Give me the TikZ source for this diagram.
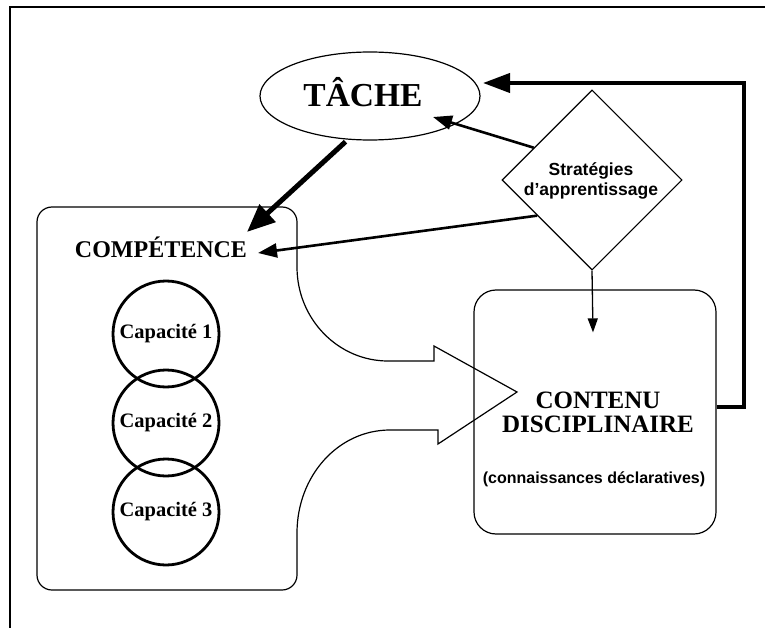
\documentclass[tikz,border=0pt]{standalone}
\usepackage{fontspec}
\setmainfont{Liberation Serif}
\setsansfont{Liberation Sans}
\usetikzlibrary{arrows.meta,shapes.geometric,calc}
\tikzset{
  thinline/.style={line width=1.2pt},
  serifbig/.style={font=\fontsize{33.5}{40}\selectfont\bfseries, inner sep=0pt},
  serifmid/.style={font=\fontsize{24}{28}\selectfont\bfseries, inner sep=0pt},
  serifcont/.style={font=\fontsize{25}{29}\selectfont\bfseries, inner sep=0pt},
  serifcap/.style={font=\fontsize{20.5}{24}\selectfont\bfseries, inner sep=0pt},
  sanslab/.style={font=\sffamily\bfseries\fontsize{17.5}{20}\selectfont, inner sep=0pt, align=center},
  sanssmall/.style={font=\sffamily\bfseries\fontsize{16}{19}\selectfont, inner sep=0pt},
  capcircle/.style={draw, circle, line width=2.8pt, minimum size=106pt, inner sep=0pt, serifcap},
  fbarrow/.style={line width=4pt, -{Triangle[length=27pt,width=19pt]}},
  bigarrow/.style={line width=5pt, -{Triangle[length=28pt,width=23pt]}},
  midarrow/.style={line width=2.6pt, -{Triangle[length=19pt,width=14pt]}},
  smallarrow/.style={line width=1.3pt, -{Triangle[length=14pt,width=10pt]}}
}
\begin{document}
\begin{tikzpicture}[x=1pt,y=-1pt]
\useasboundingbox (0,0) rectangle (765,628);
% outer frame
\draw[line width=1.8pt] (10,628) -- (10,7) -- (765,7);

% TACHE
\node[draw, ellipse, thinline, minimum width=220pt, minimum height=88pt, inner sep=0pt] (tache) at (370,96) {};
\node[serifbig, anchor=base] (tachetxt) at (363,107) {TÂCHE};

% Strategies diamond
\node[draw, diamond, line width=1.1pt, minimum width=180pt, minimum height=180pt, inner sep=0pt, aspect=1] (strat) at (592,180) {};
\node[sanslab] (strattxt) at (591,180.5) {Stratégies\\d’apprentissage};

% Competence shape with big arrow
\draw[thinline] (52,207) -- (282,207)
  .. controls (290.3,207) and (297,213.7) .. (297,222)
  -- (297,267)
  .. controls (297,319) and (338,361) .. (388,361)
  -- (434,361) -- (434,346) -- (517,392) -- (438,444) -- (438,430) -- (390,430)
  .. controls (338,430) and (297,476) .. (297,533)
  -- (297,575)
  .. controls (297,583.3) and (290.3,590) .. (282,590)
  -- (52,590)
  .. controls (43.7,590) and (37,583.3) .. (37,575)
  -- (37,222)
  .. controls (37,213.7) and (43.7,207) .. (52,207) -- cycle;
\node[serifmid, anchor=base] (comp) at (161,258) {COMPÉTENCE};

% capacities
\node[capcircle] (cap1) at (166,334) {Capacité 1};
\node[capcircle] (cap2) at (166,423) {Capacité 2};
\node[capcircle] (cap3) at (166,512) {Capacité 3};

% Contenu box
\node[draw, thinline, rounded corners=22pt, minimum width=242pt, minimum height=244pt, inner sep=0pt] (contenu) at (595,412) {};
\node[serifcont, anchor=base] (cont1) at (598,408) {CONTENU};
\node[serifcont, anchor=base] (cont2) at (598,432) {DISCIPLINAIRE};
\node[sanssmall, anchor=base] (cont3) at (594,483) {(connaissances déclaratives)};

% connector end points
\coordinate (fbtip) at ($(tache.center)+(113,-13)$);
\coordinate (tachein) at ($(tache.center)+(63,21)$);
\coordinate (compin1) at ($(comp.base)+(86,-26)$);
\coordinate (compin2) at ($(comp.base)+(97,-5)$);
\coordinate (contin) at ($(contenu.north)+(-2,43)$);

% connectors
\draw[fbarrow] ($(contenu.east)+(0,-5)$) -- ++(27,0) |- (fbtip);
\draw[bigarrow, shorten <=3pt] (tache.243) -- (compin1);
\draw[midarrow] (strat.151.5) -- (tachein);
\draw[midarrow] (strat.213) -- (compin2);
\draw[smallarrow] (strat.south) -- (contin);
\end{tikzpicture}
\end{document}
